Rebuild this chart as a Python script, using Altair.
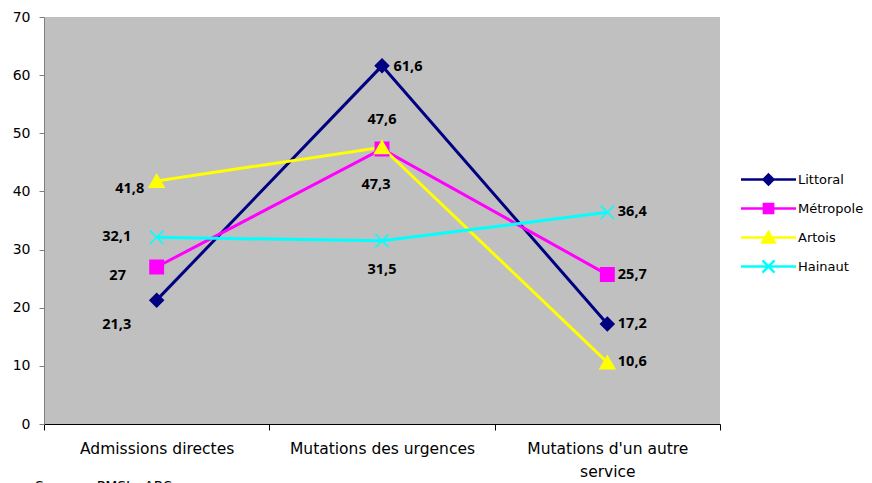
import altair as alt
import pandas as pd

categories = ["Admissions directes", "Mutations des urgences", "Mutations d'un autre service"]
series = ["Littoral", "Métropole", "Artois", "Hainaut"]
littoral = [21.3, 61.6, 17.2]
metropole = [27, 47.3, 25.7]
artois = [41.8, 47.6, 10.6]
hainaut = [32.1, 31.5, 36.4]
values = {"Littoral": littoral, "Métropole": metropole, "Artois": artois, "Hainaut": hainaut}
colors = ["#000080", "#FF00FF", "#FFFF00", "#00FFFF"]

rows = []
for s in series:
    for c, v in zip(categories, values[s]):
        rows.append({"Serie": s, "Categorie": c, "Valeur": v})
df = pd.DataFrame(rows)

FONT = "DejaVu Sans"
BOLD = "Open Sans"

x_enc = alt.X(
    "Categorie:N",
    sort=categories,
    scale=alt.Scale(type="band", paddingInner=0, paddingOuter=0),
    axis=alt.Axis(
        title=None, labelAngle=0, tickBand="extent", domainColor="#000000",
        tickColor="#000000", tickSize=6, labelPadding=11, labelFont=FONT,
        labelFontSize=15.5, labelColor="#000000", labelLimit=0, labelLineHeight=23,
        labelExpr="datum.label == \"Mutations d'un autre service\" ? [\"Mutations d'un autre\", 'service'] : datum.label",
    ),
)
y_enc = alt.Y(
    "Valeur:Q",
    scale=alt.Scale(domain=[0, 70]),
    axis=alt.Axis(
        title=None, values=list(range(0, 71, 10)), grid=False, domainColor="#808080",
        tickColor="#808080", tickSize=5, labelPadding=9, labelFont=FONT,
        labelFontSize=14, labelColor="#000000",
    ),
)

base = alt.Chart(df)

lines = base.mark_line(strokeWidth=3).encode(
    x=x_enc, y=y_enc,
    color=alt.Color("Serie:N", sort=series, scale=alt.Scale(domain=series, range=colors), legend=None),
)

marker_paths = [
    "M0,-1L1,0L0,1L-1,0Z",
    "M-1,-1L1,-1L1,1L-1,1Z",
    "M0,-0.95L1.1,0.95L-1.1,0.95Z",
    "M-1,-1L1,1M1,-1L-1,1",
]
points = base.mark_point(filled=True, opacity=1, strokeWidth=1.5, size=180).encode(
    x=x_enc, y=y_enc,
    fill=alt.Fill("Serie:N", sort=series, scale=alt.Scale(domain=series, range=colors), legend=None),
    stroke=alt.Stroke("Serie:N", sort=series, scale=alt.Scale(domain=series, range=colors), legend=None),
    shape=alt.Shape("Serie:N", sort=series, scale=alt.Scale(domain=series, range=marker_paths), legend=None),
)

legend_paths = [
    "M-2.5,0L2.5,0M0,-0.45L0.45,0L0,0.45L-0.45,0Z",
    "M-2.5,0L2.5,0M-0.42,-0.42L0.42,-0.42L0.42,0.42L-0.42,0.42Z",
    "M-2.5,0L2.5,0M0,-0.5L0.55,0.45L-0.55,0.45Z",
    "M-2.5,0L2.5,0M-0.55,-0.55L0.55,0.55M0.55,-0.55L-0.55,0.55",
]
leg = alt.Legend(
    title=None, orient="none", legendX=712, legendY=150, symbolSize=484,
    symbolStrokeWidth=2.5, labelOffset=17, rowPadding=6, labelFont=FONT,
    labelFontSize=13, labelColor="#000000", symbolOpacity=1, labelLimit=0,
)
legend_layer = base.mark_point(filled=True, opacity=1).encode(
    x=x_enc, y=y_enc,
    fill=alt.Fill("Serie:N", sort=series, scale=alt.Scale(domain=series, range=colors), legend=leg),
    stroke=alt.Stroke("Serie:N", sort=series, scale=alt.Scale(domain=series, range=colors), legend=leg),
    shape=alt.Shape("Serie:N", sort=series, scale=alt.Scale(domain=series, range=legend_paths), legend=leg),
).transform_filter("false")

label_offsets = {
    ("Littoral", 0): (-40, 25), ("Littoral", 1): (26, 1), ("Littoral", 2): (25, 0),
    ("Métropole", 0): (-39, 9), ("Métropole", 1): (-6, 36), ("Métropole", 2): (25, 0),
    ("Artois", 0): (-27, 8), ("Artois", 1): (0, -27), ("Artois", 2): (25, 0),
    ("Hainaut", 0): (-40, 0), ("Hainaut", 1): (0, 29), ("Hainaut", 2): (25, 0),
}
texts = []
for (s, ci), (dx, dy) in label_offsets.items():
    t = base.mark_text(
        font=BOLD, fontSize=14.5, fontWeight="bold", color="#000000",
        align="center", baseline="middle", dx=dx, dy=dy,
    ).encode(
        x=x_enc, y=y_enc, text="lab:N",
    ).transform_filter(
        (alt.datum.Serie == s) & (alt.datum.Categorie == categories[ci])
    ).transform_calculate(
        lab="replace(toString(datum.Valeur), '.', ',')"
    )
    texts.append(t)

chart = alt.layer(lines, points, legend_layer, *texts).resolve_scale(
    fill="independent", stroke="independent", shape="independent"
).properties(
    width=676, height=407,
    view=alt.ViewBackground(fill="#C0C0C0", strokeWidth=0),
    autosize=alt.AutoSizeParams(type="none"),
    padding={"left": 36, "top": 9, "right": 144, "bottom": 70},
    title=alt.TitleParams(
        "Source : PMSI - ARS", orient="bottom", anchor="start", frame="group",
        dx=-9, offset=0, fontSize=14, font=FONT, fontWeight="normal", color="#000000",
    ),
).configure_view(fill="#C0C0C0", strokeWidth=0).configure(background="#FFFFFF")

chart.save("out.html", embed_options={"renderer": "svg", "actions": False})
